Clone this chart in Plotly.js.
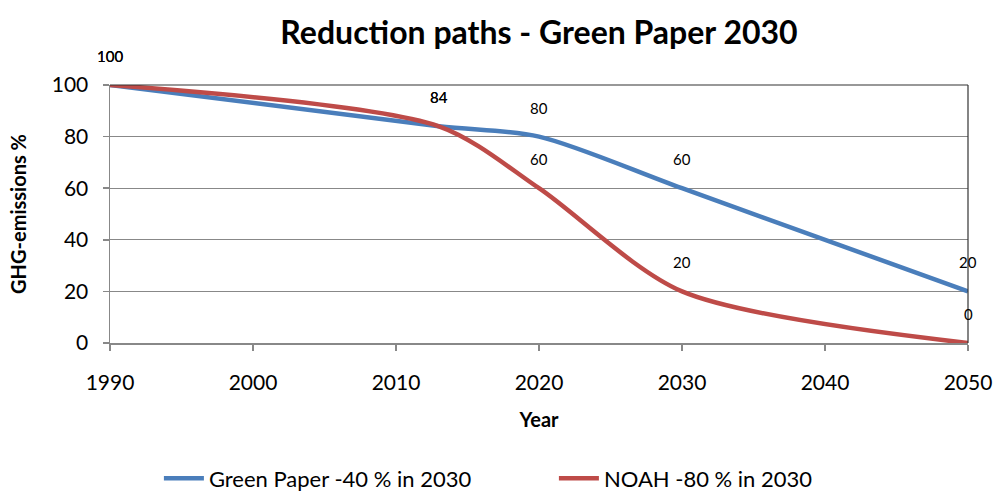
<!DOCTYPE html>
<html><head><meta charset="utf-8">
<script src="https://cdn.plot.ly/plotly-3.0.1.min.js"></script>
<style>html,body{margin:0;padding:0;background:#fff}</style>
</head><body>
<div id="chart" style="width:997px;height:502px"></div>
<script>
const years = [1990, 2013, 2020, 2030, 2050];
const greenPaper = [100, 84, 80, 60, 20];
const noah = [100, 84, 60, 20, 0];
const seriesNames = ["Green Paper -40 % in 2030", "NOAH -80 % in 2030"];
const xTicks = [1990, 2000, 2010, 2020, 2030, 2040, 2050];
const yTicks = [0, 20, 40, 60, 80, 100];

const FONT = "Lato, 'Open Sans', sans-serif";
const traces = [
  {x: years, y: greenPaper, name: seriesNames[0], mode: "lines",
   line: {color: "#4a7ebb", width: 4.5, shape: "spline", smoothing: 0.8}},
  {x: years, y: noah, name: seriesNames[1], mode: "lines",
   line: {color: "#be4b48", width: 4.5, shape: "spline", smoothing: 0.8}}
];
const annotations = [];
[greenPaper, noah].forEach(vals => {
  vals.forEach((v, i) => {
    annotations.push({x: years[i], y: v, xref: "x", yref: "y", text: String(v),
      showarrow: false, yshift: 29, font: {family: FONT, size: 15, color: "#000"}});
  });
});
const shapes = [
  {type: "line", xref: "paper", yref: "paper", x0: 0, x1: 1, y0: 1, y1: 1, line: {color: "#333", width: 1.2}},
  {type: "line", xref: "paper", yref: "paper", x0: 1, x1: 1, y0: 0, y1: 1, line: {color: "#333", width: 1.2}}
];
const layout = {
  width: 997, height: 502,
  margin: {l: 110, r: 29, t: 85, b: 159, autoexpand: false},
  paper_bgcolor: "#fff", plot_bgcolor: "#fff",
  font: {family: FONT, color: "#000"},
  title: {text: "<b>Reduction paths - Green Paper 2030</b>", font: {family: FONT, size: 32, color: "#000"},
    x: 0.5, xref: "paper", y: 0.935, yref: "container", yanchor: "middle"},
  xaxis: {range: [1990, 2050], tickvals: xTicks, ticktext: xTicks.map(String),
    showgrid: false, zeroline: false, showline: true, linecolor: "#888", linewidth: 1.5,
    ticks: "outside", ticklen: 6, tickcolor: "#888", tickwidth: 1.5, ticklabelstandoff: 14,
    tickfont: {family: FONT, size: 21, color: "#000"},
    title: {text: "<b>Year</b>", font: {family: FONT, size: 20, color: "#000"}, standoff: 20}},
  yaxis: {range: [0, 100], tickvals: yTicks, ticktext: yTicks.map(String),
    showgrid: true, gridcolor: "#888", gridwidth: 1.2, zeroline: false,
    showline: true, linecolor: "#888", linewidth: 1.5,
    ticks: "outside", ticklen: 6, tickcolor: "#888", tickwidth: 1.5, ticklabelstandoff: 10,
    tickfont: {family: FONT, size: 21, color: "#000"},
    title: {text: "<b>GHG-emissions %</b>", font: {family: FONT, size: 20, color: "#000"}, standoff: 20}},
  legend: {orientation: "h", x: 0.057, xanchor: "left", xref: "paper",
    y: 0.005, yref: "container", yanchor: "bottom",
    font: {family: FONT, size: 22, color: "#000"}, itemwidth: 40, entrywidth: 340},
  showlegend: true,
  annotations: annotations,
  shapes: shapes
};
Plotly.newPlot("chart", traces, layout, {displayModeBar: false, staticPlot: true});
</script>
</body></html>
